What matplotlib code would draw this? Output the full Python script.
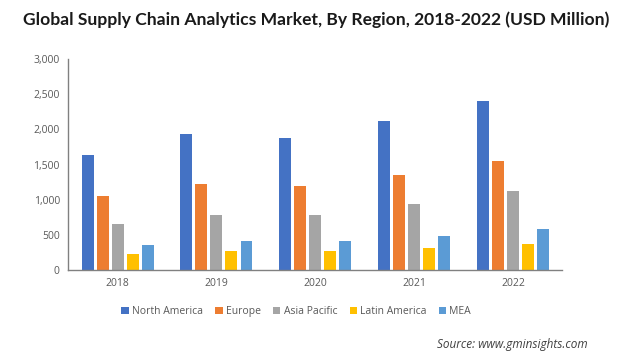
import numpy as np
import matplotlib.pyplot as plt

years = ['2018', '2019', '2020', '2021', '2022']
regions = ['North America', 'Europe', 'Asia Pacific', 'Latin America', 'MEA']
north_america = [1640, 1930, 1885, 2125, 2410]
europe = [1060, 1230, 1190, 1355, 1555]
asia_pacific = [650, 790, 790, 940, 1130]
latin_america = [235, 275, 275, 315, 375]
mea = [360, 415, 415, 485, 585]
colors = ['#4472C4', '#ED7D31', '#A5A5A5', '#FFC000', '#5B9BD5']

series = [north_america, europe, asia_pacific, latin_america, mea]

fig = plt.figure(figsize=(6.37, 3.61), dpi=100)
ax = fig.add_axes([0.107, 0.252, 0.776, 0.584])

x = np.arange(len(years))
w = 0.121
step = 0.152
for i, (vals, name) in enumerate(zip(series, regions)):
    ax.bar(x + (i - 2) * step, vals, w, color=colors[i], label=name)

ax.set_xlim(-0.5, 4.5)
ax.set_ylim(0, 3000)
ax.set_yticks(range(0, 3001, 500))
ax.set_yticklabels([f'{v:,}' for v in range(0, 3001, 500)])
ax.set_xticks(x)
ax.set_xticklabels(years)
for s in ['top', 'right']:
    ax.spines[s].set_visible(False)
for s in ['left', 'bottom']:
    ax.spines[s].set_color('#808080')
    ax.spines[s].set_linewidth(1)
ax.tick_params(length=0, labelsize=7.5, labelcolor='#595959', pad=6)
for lab in ax.get_xticklabels() + ax.get_yticklabels():
    lab.set_fontfamily('Open Sans')

fig.text(0.497, 0.945, 'Global Supply Chain Analytics Market, By Region, 2018-2022 (USD Million)',
         ha='center', va='center', fontsize=12.6, fontweight='bold', family='Lato', color='#1a1a1a')

leg = fig.legend(loc='center', bbox_to_anchor=(0.465, 0.136), ncol=5, frameon=False,
                 handlelength=0.7, handleheight=0.7, handletextpad=0.3,
                 columnspacing=1.2, prop={'family': 'Open Sans', 'size': 7.5})
for t in leg.get_texts():
    t.set_color('#595959')

fig.text(0.923, 0.047, 'Source: www.gminsights.com', ha='right', va='center',
         fontsize=8.5, style='italic', family='Open Sans', color='#404040')

plt.savefig('out.png', dpi=100)
